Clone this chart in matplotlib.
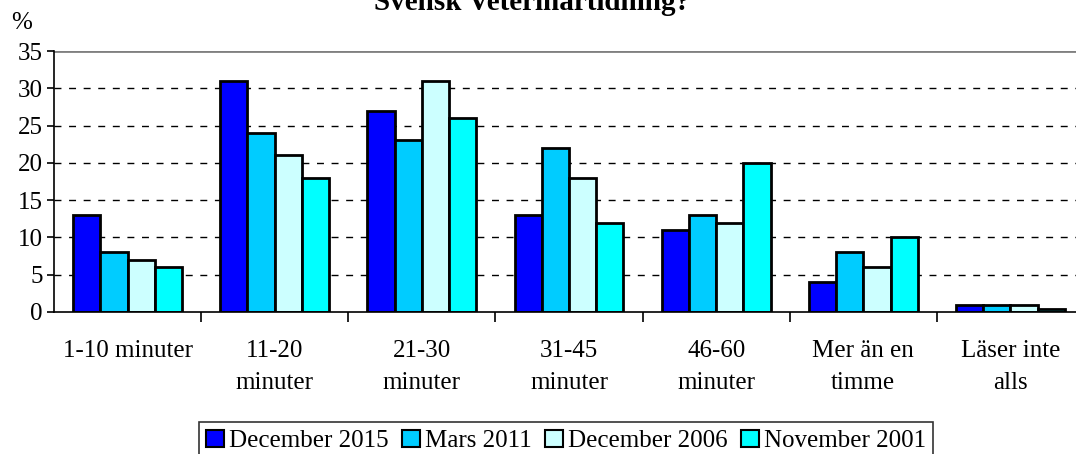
import numpy as np
import matplotlib.pyplot as plt
from matplotlib.patches import Patch

categories = ["1-10 minuter", "11-20\nminuter", "21-30\nminuter", "31-45\nminuter",
              "46-60\nminuter", "Mer än en\ntimme", "Läser inte\nalls"]
series = ["December 2015", "Mars 2011", "December 2006", "November 2001"]
dec2015 = [13, 31, 27, 13, 11, 4, 1]
mar2011 = [8, 24, 23, 22, 13, 8, 1]
dec2006 = [7, 21, 31, 18, 12, 6, 1]
nov2001 = [6, 18, 26, 12, 20, 10, 0.4]
colors = ["#0000FF", "#00CCFF", "#CCFFFF", "#00FFFF"]

plt.rcParams['font.family'] = ['Liberation Serif', 'DejaVu Serif']

fig = plt.figure(figsize=(10.76, 4.54), dpi=100)
ax = fig.add_axes([54/1076, 1-312/454, (1084-54)/1076, (312-51)/454])

x = np.arange(len(categories))
w = 0.185
for i, (vals, col) in enumerate(zip([dec2015, mar2011, dec2006, nov2001], colors)):
    ax.bar(x + (i - 1.5) * w, vals, w, color=col, edgecolor='black', linewidth=2)

ax.set_xlim(-0.5, len(categories) - 0.5)
ax.set_ylim(0, 35)
ax.set_yticks(range(0, 36, 5))
ax.tick_params(axis='y', labelsize=18, direction='out', length=5, width=1.2, pad=3)
ax.set_xticks(x)
ax.set_xticklabels(categories, fontsize=18, linespacing=1.62)
ax.tick_params(axis='x', length=0, pad=20)
ax.set_xticks(np.arange(0.5, len(categories) - 0.5), minor=True)
ax.tick_params(axis='x', which='minor', length=7, width=1.2, direction='out')

for y in range(5, 35, 5):
    ax.axhline(y, color='black', linestyle=(0, (5, 5.5)), linewidth=1.0, zorder=0)
ax.axhline(35, color='#808080', linewidth=2)
ax.spines['top'].set_visible(False)
ax.spines['right'].set_visible(False)
ax.spines['left'].set_linewidth(1.2)
ax.spines['bottom'].set_linewidth(1.2)

fig.text(22/1076, 1-23/454, "%", fontsize=18, ha='center', va='center')
fig.text(532/1076, 1-10/454, "Svensk Veterinärtidning?", fontsize=21, fontweight='bold',
         ha='center', va='baseline')

handles = [Patch(facecolor=c, edgecolor='black', linewidth=1.5) for c in colors]
leg = fig.legend(handles, series, loc='center', bbox_to_anchor=(566/1076, 1-441/454),
                 ncol=4, fontsize=18, frameon=True, fancybox=False, edgecolor='black',
                 handlelength=0.7, handleheight=0.7, handletextpad=0.2, columnspacing=0.55,
                 borderpad=0.3, borderaxespad=0)
leg.get_frame().set_linewidth(1.2)

fig.savefig('out.png', dpi=100)
